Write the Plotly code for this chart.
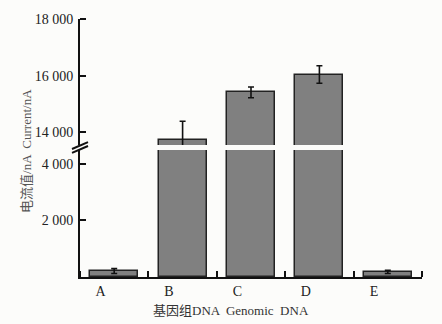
import plotly.graph_objects as go

categories = ["A", "B", "C", "D", "E"]
current = [210, 13730, 15410, 16040, 180]
err = [85, 660, 190, 310, 55]
lower_ticks = [2000, 4000]
upper_ticks = [14000, 16000, 18000]
lower_range = [0, 4490]
upper_range = [13550, 18000]

FONT = "Liberation Serif, Times New Roman, Noto Sans CJK SC"
BG = "#fcfcfa"
xs = list(range(len(categories)))

fig = go.Figure()
for ya, xa in (("y", "x"), ("y2", "x2")):
    fig.add_trace(go.Bar(
        x=xs, y=current, width=0.7, xaxis=xa, yaxis=ya,
        marker=dict(color="#808080", line=dict(color="#222222", width=1.5)),
        error_y=dict(type="data", array=err, color="#111111", thickness=1.6, width=3),
        showlegend=False, hoverinfo="skip",
    ))

W = 442
l, r, t, b = 80, 20, 15, 47
ph = 324 - t - b
low_top = (277 - 148) / ph
up_bot = (277 - 143) / ph

def fmt(v):
    return f"{v:,}".replace(",", " ")

tickfont = dict(family=FONT, size=14, color="#222222")
fig.update_layout(
    width=W, height=324,
    margin=dict(l=l, r=r, t=t, b=b),
    paper_bgcolor=BG, plot_bgcolor=BG,
    font=dict(family=FONT, size=13, color="#222222"),
    bargap=0,
    xaxis=dict(
        range=[-0.5, 4.5], anchor="y", domain=[0, 1],
        tickvals=[i - 0.2 for i in xs], ticktext=categories,
        tickfont=tickfont,
        ticks="", showline=True, linecolor="#111111", linewidth=2,
        showgrid=False, zeroline=False,
        minor=dict(tick0=0.5, dtick=1, ticks="inside", ticklen=6,
                   tickwidth=2, tickcolor="#111111", showgrid=False),
        ticklabelstandoff=0,
    ),
    xaxis2=dict(range=[-0.5, 4.5], anchor="y2", matches="x", visible=False),
    yaxis=dict(
        domain=[0, low_top], range=lower_range, anchor="x",
        tickvals=lower_ticks, ticktext=[fmt(v) for v in lower_ticks],
        tickfont=tickfont,
        ticks="inside", ticklen=6, tickwidth=2, tickcolor="#111111",
        showline=True, linecolor="#111111", linewidth=2,
        showgrid=False, zeroline=False, ticklabelstandoff=2,
    ),
    yaxis2=dict(
        domain=[up_bot, 1], range=upper_range, anchor="x2",
        tickvals=upper_ticks, ticktext=[fmt(v) for v in upper_ticks],
        tickfont=tickfont,
        ticks="inside", ticklen=6, tickwidth=2, tickcolor="#111111",
        showline=True, linecolor="#111111", linewidth=2,
        showgrid=False, zeroline=False, ticklabelstandoff=2,
    ),
)

pw = W - l - r
def px(x):
    return (x - l) / pw
def py(y):
    return (277 - y) / ph

# top cap tick
fig.add_shape(type="line", xref="paper", yref="paper",
              x0=px(80), x1=px(86), y0=1, y1=1,
              line=dict(color="#111111", width=2))
# axis break marks
for dy in (0, 4):
    fig.add_shape(type="line", xref="paper", yref="paper",
                  x0=px(72), y0=py(151 - dy), x1=px(88), y1=py(144 - dy),
                  line=dict(color="#111111", width=2))

fig.add_annotation(text="电流值/nA  Current/nA", xref="paper", yref="paper",
                   x=px(27), y=py(149), xanchor="center", yanchor="middle",
                   textangle=-90, showarrow=False,
                   font=dict(family=FONT, size=13, color="#555555"))
fig.add_annotation(text="基因组DNA  Genomic  DNA", xref="paper", yref="paper",
                   x=px(231), y=py(311), xanchor="center", yanchor="middle",
                   showarrow=False,
                   font=dict(family=FONT, size=13, color="#333333"))

fig.write_html("out.html")
